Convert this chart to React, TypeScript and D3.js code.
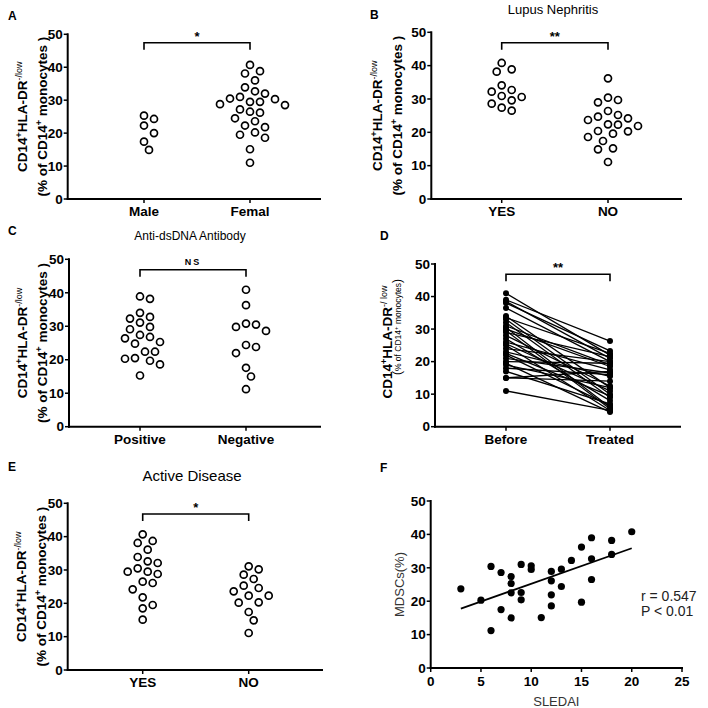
import React from 'react'
import * as d3 from 'd3'

const FONT = '"Liberation Sans", Arial, Helvetica, sans-serif'

// A: sex
const sexCats = ['Male', 'Femal']
const maleVals = [25.3, 24.3, 22.3, 20.0, 17.4, 14.9]
const femalVals = [40.7, 38.8, 38.1, 36.0, 33.9, 32.7, 32.0, 31.0, 30.5, 30.3, 29.5, 29.5, 28.8, 28.5, 27.2, 26.5, 26.2, 24.5, 23.6, 22.3, 21.8, 20.2, 19.5, 18.6, 15.1, 11.0]

// B: lupus nephritis
const nephCats = ['YES', 'NO']
const nephYes = [40.8, 38.9, 38.2, 34.1, 32.7, 32.2, 30.9, 30.6, 29.6, 28.6, 27.4, 26.5]
const nephNo = [36.2, 30.4, 29.7, 29.0, 26.4, 25.2, 24.7, 24.2, 23.7, 22.4, 22.3, 21.9, 20.4, 20.3, 19.6, 18.6, 17.4, 15.2, 14.9, 11.1]

// C: anti-dsDNA
const dnaCats = ['Positive', 'Negative']
const dnaPos = [38.9, 38.2, 34.0, 32.8, 32.3, 31.1, 29.8, 29.1, 27.4, 26.8, 26.4, 25.3, 24.8, 22.4, 22.4, 20.5, 20.3, 19.7, 18.6, 15.3]
const dnaNeg = [40.9, 36.3, 30.8, 30.5, 29.8, 28.6, 24.4, 23.8, 22.0, 17.6, 15.0, 11.2]

// D: before / treated pairs
const treatCats = ['Before', 'Treated']
const beforeVals = [41, 39, 38.5, 38, 36.5, 34, 33.5, 33, 32, 31, 30.5, 30, 29.5, 29, 28, 27, 26, 25.5, 25, 24, 23, 22.5, 22, 21, 20, 19.5, 19, 18, 17, 15, 15, 11]
const treatedVals = [22, 26.3, 21, 23.3, 20, 12, 22.5, 10, 9, 19, 6, 18.5, 5.5, 21.5, 12.5, 8, 17.5, 11, 5, 20, 15.5, 9.5, 6.5, 16.5, 19.5, 4.5, 12, 16, 7, 14, 17, 5]

// E: active disease
const activeCats = ['YES', 'NO']
const activeYes = [40.7, 38.7, 38.1, 36.1, 33.9, 32.6, 32.1, 30.5, 29.5, 29.5, 28.8, 26.5, 26.1, 24.2, 21.8, 19.5, 18.5, 15.1]
const activeNo = [31.1, 30.2, 28.6, 27.3, 25.3, 24.6, 23.6, 22.3, 22.3, 20.3, 20.2, 17.4, 14.9, 11.1]

// F: SLEDAI vs MDSCs
const sledai = [3, 5, 6, 6, 7, 7, 8, 8, 8, 8, 9, 9, 9, 10, 10, 11, 12, 12, 12, 12, 13, 13, 14, 15, 15, 16, 16, 16, 18, 18, 20]
const mdsc = [23.7, 20.3, 30.4, 11.2, 28.6, 17.5, 27.4, 25.3, 22.5, 15.0, 31.0, 22.6, 20.4, 30.6, 29.5, 15.1, 28.9, 26.1, 21.9, 18.6, 29.6, 24.4, 32.2, 36.2, 19.7, 39.0, 32.7, 26.5, 38.2, 34.0, 40.8]

function dodge(vals: number[], y: (v: number) => number, step = 5, minDist = 9.6) {
  const order = d3.range(vals.length).sort((a, b) => vals[b] - vals[a])
  const placed: { x: number; y: number }[] = []
  const out: number[] = new Array(vals.length).fill(0)
  for (const i of order) {
    const py = y(vals[i])
    for (let k = 0; k < 60; k++) {
      const dx = k === 0 ? 0 : (k % 2 ? 1 : -1) * Math.ceil(k / 2) * step
      const hit = placed.some((p) => Math.hypot(p.x - dx, p.y - py) < minDist)
      if (!hit) {
        out[i] = dx
        placed.push({ x: dx, y: py })
        break
      }
    }
  }
  return out
}

function YAxis({ y, x, xEnd, y0 }: any) {
  return (
    <g>
      <line x1={x} x2={x} y1={y(50) - 1} y2={y0 + 1} stroke="#000" strokeWidth={2} />
      <line x1={x - 1} x2={xEnd} y1={y0} y2={y0} stroke="#000" strokeWidth={2} />
      {y.ticks(5).map((t: number) => (
        <g key={t}>
          <line x1={x - 4} x2={x} y1={y(t)} y2={y(t)} stroke="#000" strokeWidth={1.5} />
          <text x={x - 5} y={y(t)} dy="0.35em" textAnchor="end" fontSize={13.5} fontWeight="bold">{t}</text>
        </g>
      ))}
    </g>
  )
}

function Bracket({ x1, x2, by, sig, small }: any) {
  return (
    <g>
      <path d={`M${x1},${by + 7}V${by}H${x2}V${by + 7}`} fill="none" stroke="#000" strokeWidth={1.6} />
      <text x={(x1 + x2) / 2} y={small ? by - 5 : by - 2} textAnchor="middle" fontSize={small ? 9 : 13} fontWeight="bold" letterSpacing={small ? 2 : 0}>{sig}</text>
    </g>
  )
}

function YTitle({ x1, x2, cy }: any) {
  return (
    <g fontWeight="bold" fontSize={13.5}>
      <text transform={`translate(${x1},${cy}) rotate(-90)`} dy="0.35em" textAnchor="middle">
        CD14<tspan fontSize={9} dy={-5}>+</tspan><tspan dy={5}>HLA-DR</tspan><tspan fontSize={9} fontWeight="normal" dy={-5}>-/low</tspan>
      </text>
      <text transform={`translate(${x2},${cy}) rotate(-90)`} dy="0.35em" textAnchor="middle">
        (% of CD14<tspan fontSize={9} dy={-5}>+</tspan><tspan dy={5}> monocytes )</tspan>
      </text>
    </g>
  )
}

function DotPanel({ cats, groups, axisX, y0, y50, xEnd, centers, bracketY, sig, small, t1, t2 }: any) {
  const y = d3.scaleLinear().domain([0, 50]).range([y0, y50])
  const x = d3.scalePoint<string>().domain(cats).range(centers)
  return (
    <g>
      <YTitle x1={t1} x2={t2} cy={(y0 + y50) / 2} />
      <YAxis y={y} x={axisX} xEnd={xEnd} y0={y0} />
      {cats.map((c: string) => (
        <g key={c}>
          <line x1={x(c)} x2={x(c)} y1={y0} y2={y0 + 4} stroke="#000" strokeWidth={1.5} />
          <text x={x(c)} y={y0 + 17} textAnchor="middle" fontSize={13.5} fontWeight="bold">{c}</text>
        </g>
      ))}
      <Bracket x1={x(cats[0])} x2={x(cats[1])} by={bracketY} sig={sig} small={small} />
      {groups.map((vals: number[], gi: number) => {
        const off = dodge(vals, y)
        return vals.map((v, i) => (
          <circle key={gi + '-' + i} cx={(x(cats[gi]) as number) + off[i]} cy={y(v)} r={3.5} fill="#fff" stroke="#000" strokeWidth={1.7} />
        ))
      })}
    </g>
  )
}

function PairPanel() {
  const y0 = 426.7
  const y = d3.scaleLinear().domain([0, 50]).range([y0, 264])
  const x = d3.scalePoint<string>().domain(treatCats).range([506, 610])
  const xb = x(treatCats[0]) as number
  const xt = x(treatCats[1]) as number
  return (
    <g>
      <text transform={`translate(387,342) rotate(-90)`} dy="0.35em" textAnchor="middle" fontSize={13.5} fontWeight="bold">
        CD14<tspan fontSize={9} dy={-5}>+</tspan><tspan dy={5}>HLA-DR</tspan><tspan fontSize={9} fontWeight="normal" dy={-5}>-/ low</tspan>
      </text>
      <text transform={`translate(398,327) rotate(-90)`} dy="0.35em" textAnchor="middle" fontSize={8.5}>
        <tspan fontSize={12}>(</tspan>% of  CD14<tspan fontSize={6} dy={-3}>+</tspan><tspan dy={3}> monocytes</tspan><tspan fontSize={12}>)</tspan>
      </text>
      <YAxis y={y} x={435} xEnd={681} y0={y0} />
      {treatCats.map((c) => (
        <g key={c}>
          <line x1={x(c)} x2={x(c)} y1={y0} y2={y0 + 4} stroke="#000" strokeWidth={1.5} />
          <text x={x(c)} y={y0 + 17} textAnchor="middle" fontSize={13.5} fontWeight="bold">{c}</text>
        </g>
      ))}
      <Bracket x1={xb} x2={xt} by={274.3} sig="**" />
      {beforeVals.map((b, i) => (
        <line key={'l' + i} x1={xb} y1={y(b)} x2={xt} y2={y(treatedVals[i])} stroke="#000" strokeWidth={1.3} />
      ))}
      {beforeVals.map((b, i) => (
        <g key={'p' + i}>
          <circle cx={xb} cy={y(b)} r={3} fill="#000" />
          <circle cx={xt} cy={y(treatedVals[i])} r={3} fill="#000" />
        </g>
      ))}
    </g>
  )
}

function ScatterPanel() {
  const x = d3.scaleLinear().domain([0, 25]).range([430.7, 682])
  const y = d3.scaleLinear().domain([0, 50]).range([668, 501])
  const mx = d3.mean(sledai) as number
  const my = d3.mean(mdsc) as number
  const slope = d3.sum(sledai, (s, i) => (s - mx) * (mdsc[i] - my)) / d3.sum(sledai, (s) => (s - mx) ** 2)
  const icpt = my - slope * mx
  const [lo, hi] = d3.extent(sledai) as [number, number]
  return (
    <g>
      <line x1={x(0)} x2={x(0)} y1={y(50) - 1} y2={y(0) + 1} stroke="#000" strokeWidth={2} />
      <line x1={x(0) - 1} x2={x(25) + 1} y1={y(0)} y2={y(0)} stroke="#000" strokeWidth={2} />
      {y.ticks(5).map((t) => (
        <g key={t}>
          <line x1={x(0) - 4} x2={x(0)} y1={y(t)} y2={y(t)} stroke="#000" strokeWidth={1.5} />
          <text x={x(0) - 5} y={y(t)} dy="0.35em" textAnchor="end" fontSize={13.5} fontWeight="bold">{t}</text>
        </g>
      ))}
      {x.ticks(5).map((t) => (
        <g key={t}>
          <line x1={x(t)} x2={x(t)} y1={y(0)} y2={y(0) + 4} stroke="#000" strokeWidth={1.5} />
          <text x={x(t)} y={y(0) + 18} textAnchor="middle" fontSize={13.5} fontWeight="bold">{t}</text>
        </g>
      ))}
      <text x={(x(0) + x(25)) / 2} y={706} textAnchor="middle" fontSize={13} fill="#333">SLEDAI</text>
      <text transform={`translate(399,${(y(0) + y(50)) / 2}) rotate(-90)`} dy="0.35em" textAnchor="middle" fontSize={13} fill="#333">MDSCs(%)</text>
      <line x1={x(lo)} y1={y(icpt + slope * lo)} x2={x(hi)} y2={y(icpt + slope * hi)} stroke="#000" strokeWidth={1.8} />
      {sledai.map((s, i) => (
        <circle key={i} cx={x(s)} cy={y(mdsc[i])} r={3.6} fill="#000" />
      ))}
      <text x={641} y={601} fontSize={14} fill="#222">r = 0.547</text>
      <text x={641} y={616} fontSize={14} fill="#222">P &lt; 0.01</text>
    </g>
  )
}

export default function App() {
  return (
    <svg width={708} height={708} style={{ display: 'block', position: 'absolute', left: 0, top: 0, background: '#fff' }} fontFamily={FONT}>
      <rect width={708} height={708} fill="#fff" />
      <g fontSize={12} fontWeight="bold">
        <text x={8} y={20}>A</text>
        <text x={370} y={19}>B</text>
        <text x={8} y={235}>C</text>
        <text x={380} y={240}>D</text>
        <text x={8} y={471}>E</text>
        <text x={380} y={472}>F</text>
      </g>
      <text x={553} y={14} textAnchor="middle" fontSize={13}>Lupus Nephritis</text>
      <text x={190} y={240} textAnchor="middle" fontSize={12}>Anti-dsDNA Antibody</text>
      <text x={192} y={481} textAnchor="middle" fontSize={15}>Active Disease</text>

      <DotPanel cats={sexCats} groups={[maleVals, femalVals]} axisX={67.7} y0={199} y50={34.3} xEnd={321} centers={[144, 250]} bracketY={42.7} sig="*" t1={22} t2={42} />
      <DotPanel cats={nephCats} groups={[nephYes, nephNo]} axisX={431.3} y0={199} y50={32.3} xEnd={682} centers={[501.7, 608]} bracketY={42.7} sig="**" t1={377} t2={397} />
      <DotPanel cats={dnaCats} groups={[dnaPos, dnaNeg]} axisX={69} y0={426.7} y50={259.3} xEnd={321} centers={[140, 246]} bracketY={269.7} sig="NS" small t1={22} t2={42} />
      <PairPanel />
      <DotPanel cats={activeCats} groups={[activeYes, activeNo]} axisX={67.7} y0={670} y50={503.3} xEnd={323} centers={[142.7, 248.7]} bracketY={514} sig="*" t1={21} t2={41} />
      <ScatterPanel />
    </svg>
  )
}
